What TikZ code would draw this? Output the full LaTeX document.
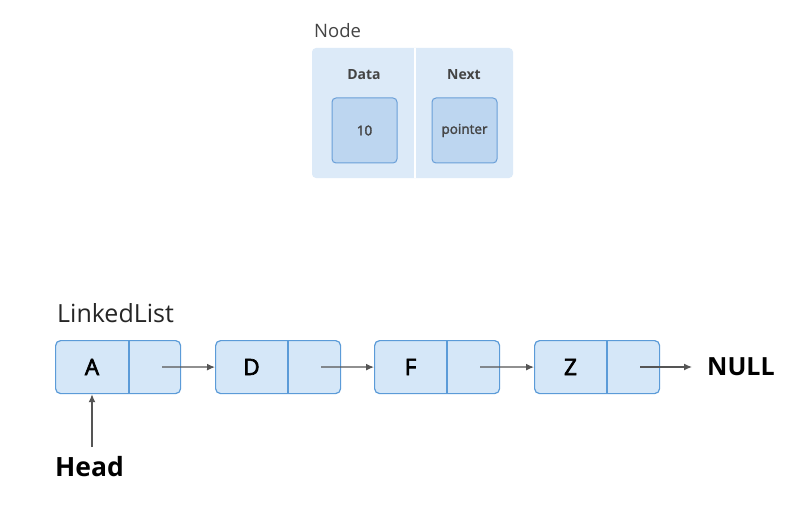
\documentclass[tikz,border=0pt]{standalone}
\usepackage{fontspec}
\setmainfont{Open Sans}
\newfontfamily\medfont[FakeBold=3]{Open Sans}
\newfontfamily\smallmed[FakeBold=2]{Open Sans}
\usetikzlibrary{arrows.meta}
\definecolor{cellfill}{HTML}{D5E7F8}
\definecolor{celldraw}{HTML}{5B9BD8}
\definecolor{outerfill}{HTML}{DCEAF8}
\definecolor{innerfill}{HTML}{BDD6F0}
\definecolor{innerdraw}{HTML}{6A9FD8}
\definecolor{txt}{HTML}{444444}
\definecolor{arr}{HTML}{555555}
\tikzset{
  cell/.style={draw=celldraw, fill=cellfill, line width=1.2pt, rounded corners=5pt, minimum width=125pt, minimum height=53pt, inner sep=0pt},
  inner/.style={draw=innerdraw, fill=innerfill, line width=1pt, rounded corners=4pt, minimum width=65pt, minimum height=65pt, inner sep=0pt, text=txt, font=\smallmed\fontsize{13.5}{15}\selectfont},
  letter/.style={font=\medfont\fontsize{22.5}{24}\selectfont, text=black},
  link/.style={draw=arr, line width=1.3pt, -{Latex[length=8pt,width=7pt]}},
  lbl/.style={inner sep=0pt, anchor=base west}
}
\begin{document}
\begin{tikzpicture}[x=1pt,y=-1pt]
\useasboundingbox[fill=white] (0,0) rectangle (802,505);
% top node diagram
\node[fill=outerfill, rounded corners=4pt, minimum width=201pt, minimum height=130pt, inner sep=0pt] (outer) at (412.5,113) {};
\draw[white, line width=1.5pt] (415,48) -- (415,178);
\node[lbl, font=\fontsize{18.5}{20}\selectfont, text=txt] (nodelbl) at (314,38) {Node};
\node[font=\fontsize{14}{16}\selectfont\bfseries, text=txt] (datalbl) at (364,75) {Data};
\node[font=\fontsize{14}{16}\selectfont\bfseries, text=txt] (nextlbl) at (464,75) {Next};
\node[inner] (val) at (364.5,130.5) {10};
\node[inner] (ptr) at (464.5,130.5) {pointer};
% linked list
\node[lbl, font=\fontsize{25}{28}\selectfont, text=black!85] (ll) at (57,322) {LinkedList};
\foreach \n/\x/\d/\t in {a/55/129/A, d/215/288/D, f/374/447/F, z/534/607/Z}{
  \node[cell, anchor=north west] (\n) at (\x,340) {};
  \draw[celldraw, line width=1.2pt] (\d,340) -- (\d,393);
  \node[letter] (\n l) at ({(\x+\d)/2},367) {\t};
  \coordinate (\n p) at ({\d+33},367);
}
\node[font=\fontsize{25}{28}\selectfont\bfseries, text=black, anchor=west, inner sep=0pt] (null) at (707,367) {NULL};
\draw[link] (ap) -- (d.west);
\draw[link] (dp) -- (f.west);
\draw[link] (fp) -- (z.west);
\draw[link] (zp) -- (null.west -| 692,0);
\node[lbl, font=\fontsize{26.5}{28}\selectfont\bfseries, text=black] (head) at (55,476) {Head};
\draw[link] (92,447) -- (a.south -| 92,0);
\end{tikzpicture}
\end{document}
